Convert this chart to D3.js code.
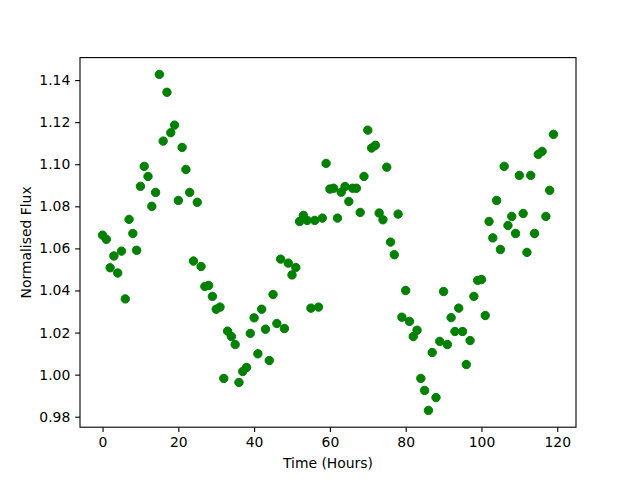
<!DOCTYPE html>
<html>
<head>
<meta charset="utf-8">
<script src="https://cdn.jsdelivr.net/npm/d3@7"></script>
<style>
  body { margin: 0; background: #fff; }
  svg { font-family: "DejaVu Sans", sans-serif; }
</style>
</head>
<body>
<div id="chart"></div>
<script>
// hourly normalised flux readings
const hours = d3.range(0, 120);
const flux = [
  1.0663, 1.0643, 1.0508, 1.0564, 1.0483, 1.0587, 1.0360, 1.0738, 1.0671, 1.0591,
  1.0895, 1.0990, 1.0942, 1.0800, 1.0866, 1.1427, 1.1110, 1.1342, 1.1150, 1.1186,
  1.0828, 1.1080, 1.0975, 1.0866, 1.0540, 1.0819, 1.0514, 1.0419, 1.0424, 1.0372,
  1.0311, 1.0321, 0.9982, 1.0207, 1.0181, 1.0143, 0.9963, 1.0015, 1.0034, 1.0196,
  1.0270, 1.0099, 1.0311, 1.0216, 1.0067, 1.0381, 1.0243, 1.0549, 1.0219, 1.0530,
  1.0474, 1.0509, 1.0728, 1.0757, 1.0733, 1.0316, 1.0733, 1.0321, 1.0744, 1.1004,
  1.0882, 1.0886, 1.0744, 1.0867, 1.0894, 1.0823, 1.0886, 1.0886, 1.0771, 1.0942,
  1.1162, 1.1077, 1.1090, 1.0768, 1.0736, 1.0986, 1.0630, 1.0570, 1.0763, 1.0273,
  1.0400, 1.0253, 1.0181, 1.0211, 0.9982, 0.9925, 0.9830, 1.0105, 0.9891, 1.0158,
  1.0395, 1.0143, 1.0271, 1.0205, 1.0316, 1.0205, 1.0048, 1.0162, 1.0372, 1.0448,
  1.0452, 1.0281, 1.0728, 1.0650, 1.0828, 1.0595, 1.0990, 1.0709, 1.0752, 1.0671,
  1.0947, 1.0766, 1.0581, 1.0947, 1.0671, 1.1047, 1.1061, 1.0752, 1.0876, 1.1142
];
const xTicks = [0, 20, 40, 60, 80, 100, 120];
const yTicks = [0.98, 1.00, 1.02, 1.04, 1.06, 1.08, 1.10, 1.12, 1.14];

const margin = { top: 57.6, right: 64, bottom: 52.8, left: 80 };
const width = 640 - margin.left - margin.right;
const height = 480 - margin.top - margin.bottom;

const points = hours.map((h, i) => ({ h, f: flux[i] }));

function padded(ext) {
  const d = (ext[1] - ext[0]) * 0.05;
  return [ext[0] - d, ext[1] + d];
}

const x = d3.scaleLinear().domain(padded(d3.extent(hours))).range([0, width]);
const y = d3.scaleLinear().domain(padded(d3.extent(flux))).range([height, 0]);

const svg = d3.select('#chart')
  .append('svg')
  .attr('width', 640)
  .attr('height', 480);

const g = svg.append('g')
  .attr('transform', `translate(${margin.left},${margin.top})`);

g.append('g')
  .selectAll('circle')
  .data(points)
  .join('circle')
  .attr('cx', d => x(d.h))
  .attr('cy', d => y(d.f))
  .attr('r', 4.2)
  .attr('fill', '#008000')
  .attr('stroke', '#008000')
  .attr('stroke-width', 1);

const tick = 4.86;

const xAxis = g.append('g')
  .attr('transform', `translate(0,${height})`)
  .call(d3.axisBottom(x).tickValues(xTicks).tickFormat(d3.format('d'))
    .tickSize(tick).tickPadding(4.86));

const yAxis = g.append('g')
  .call(d3.axisLeft(y).tickValues(yTicks).tickFormat(d3.format('.2f'))
    .tickSize(tick).tickPadding(4.86));

[xAxis, yAxis].forEach(a => {
  a.select('.domain').remove();
  a.selectAll('.tick line').attr('stroke', '#000').attr('stroke-width', 1.1);
  a.selectAll('.tick text')
    .attr('fill', '#000')
    .style('font-size', '13.9px')
    .style('font-family', '"DejaVu Sans", sans-serif');
});

// frame
g.append('rect')
  .attr('width', width)
  .attr('height', height)
  .attr('fill', 'none')
  .attr('stroke', '#000')
  .attr('stroke-width', 1.1);

svg.append('text')
  .attr('x', margin.left + width / 2)
  .attr('y', 468)
  .attr('text-anchor', 'middle')
  .style('font-size', '13.9px')
  .text('Time (Hours)');

svg.append('text')
  .attr('transform', `translate(31,${margin.top + height / 2}) rotate(-90)`)
  .attr('text-anchor', 'middle')
  .style('font-size', '13.9px')
  .text('Normalised Flux');
</script>
</body>
</html>
